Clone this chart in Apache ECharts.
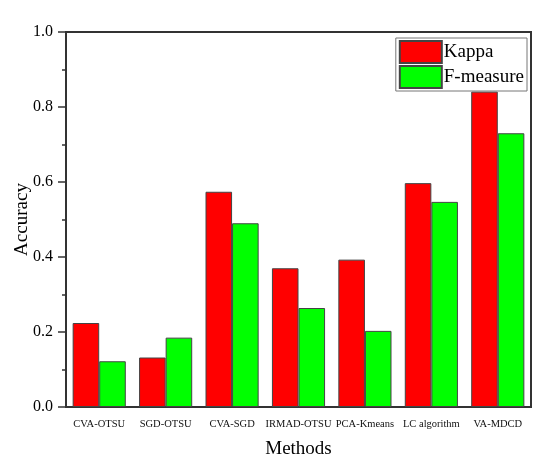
<!DOCTYPE html>
<html>
<head>
<meta charset="utf-8">
<script src="https://cdn.jsdelivr.net/npm/echarts@6/dist/echarts.min.js"></script>
<style>
  html, body { margin: 0; padding: 0; background: #fff; }
  #chart { width: 550px; height: 462px; }
</style>
</head>
<body>
<div id="chart"></div>
<script>
var methods = ['CVA-OTSU', 'SGD-OTSU', 'CVA-SGD', 'IRMAD-OTSU', 'PCA-Kmeans', 'LC algorithm', 'VA-MDCD'];
var kappa = [0.224, 0.132, 0.574, 0.370, 0.393, 0.597, 0.841];
var fMeasure = [0.122, 0.185, 0.490, 0.264, 0.203, 0.547, 0.730];
var yTicks = [0, 0.2, 0.4, 0.6, 0.8, 1.0];

var serif = "'Liberation Serif', 'Times New Roman', serif";

var myChart = echarts.init(document.getElementById('chart'));
var option = {
  backgroundColor: '#fff',
  animation: false,
  grid: {
    left: 66, right: 19, top: 32, bottom: 55,
    containLabel: false,
    outerBoundsMode: 'none',
    show: true,
    borderColor: '#333',
    borderWidth: 2
  },
  legend: {
    data: ['Kappa', 'F-measure'],
    orient: 'vertical',
    right: 23,
    top: 38,
    itemWidth: 42,
    itemHeight: 22,
    itemGap: 1,
    padding: [2, 3, 2, 3],
    borderColor: '#777',
    borderWidth: 1,
    icon: 'rect',
    textStyle: { fontFamily: serif, fontSize: 19, color: '#000', padding: [0, 0, 0, -3] }
  },
  xAxis: {
    type: 'category',
    data: methods,
    name: 'Methods',
    nameLocation: 'middle',
    nameGap: 33,
    nameMoveOverlap: false,
    nameTextStyle: { fontFamily: serif, fontSize: 19, color: '#000' },
    axisLine: { lineStyle: { color: '#333', width: 2 } },
    axisTick: { alignWithLabel: true, length: 6, lineStyle: { color: '#333', width: 1.5 } },
    axisLabel: { fontFamily: serif, fontSize: 10.5, color: '#111', margin: 12, interval: 0 }
  },
  yAxis: {
    type: 'value',
    min: 0,
    max: 1,
    interval: 0.2,
    name: 'Accuracy',
    nameLocation: 'middle',
    nameGap: 34,
    nameMoveOverlap: false,
    nameTextStyle: { fontFamily: serif, fontSize: 19, color: '#000' },
    axisLine: { show: true, lineStyle: { color: '#333', width: 2 } },
    axisTick: { show: true, length: 8, lineStyle: { color: '#333', width: 1.5 } },
    minorTick: { show: true, splitNumber: 2, length: 4, lineStyle: { color: '#333', width: 1.5 } },
    splitLine: { show: false },
    axisLabel: {
      fontFamily: serif, fontSize: 16, color: '#000', margin: 13,
      formatter: function(v) { return yTicks.indexOf(+v.toFixed(1)) >= 0 ? v.toFixed(1) : ''; }
    }
  },
  series: [{
    name: 'Kappa',
    type: 'bar',
    data: kappa,
    barGap: '0%',
    barCategoryGap: '20%',
    itemStyle: { color: '#ff0000', borderColor: '#444', borderWidth: 1 }
  }, {
    name: 'F-measure',
    type: 'bar',
    data: fMeasure,
    barGap: '0%',
    barCategoryGap: '20%',
    itemStyle: { color: '#00ff00', borderColor: '#444', borderWidth: 1 }
  }]
};
myChart.setOption(option);
</script>
</body>
</html>
